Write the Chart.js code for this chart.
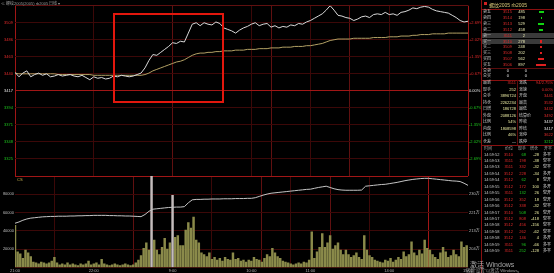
<!DOCTYPE html>
<html>
<head>
<meta charset="utf-8">
<title>rb2005 分时</title>
<script src="https://cdn.jsdelivr.net/npm/chart.js@4.4.1/dist/chart.umd.min.js"></script>
<style>
  html, body { margin: 0; padding: 0; background: #000; }
  body { width: 554px; height: 273px; overflow: hidden; position: relative;
         font-family: "Liberation Sans", "Noto Sans CJK SC", sans-serif; }
  #priceBox { position: absolute; left: 0; top: 0; width: 481px; height: 176px; }
  #volBox { position: absolute; left: 0; top: 176px; width: 481px; height: 97px; }
  .t { position: absolute; white-space: nowrap; line-height: 1; font-size: 4px; }
  .r { position: absolute; }
  #mark { position: absolute; left: 113px; top: 13px; width: 107px; height: 86px; border: 2px solid #e3170d; }
</style>
</head>
<body>
<div id="priceBox"><canvas id="priceChart"></canvas></div>
<div id="volBox"><canvas id="volChart"></canvas></div>
<div id="mark"></div>
<script>
// 螺纹2005 分时：价格/均价/持仓每3分钟一个点，成交量每2分钟一根
const base = 3417; // 昨结
const sessionTicks = [0, 60, 120, 180, 195, 225, 255, 285, 345];
const timeLabels = ['21:00', '22:00', '9:00', '10:00', '', '11:00', '', '14:00', '15:00'];
const priceTicks = [3532, 3509, 3486, 3463, 3440, 3417, 3394, 3371, 3348, 3325, 3302];
const volTicks = [0, 20000, 40000, 60000, 80000, 100000];
const oiTicks = [195.6, 204.2, 212.8, 221.4, 230, 238.6];

const price = [
  3442, 3436, 3441, 3444, 3436, 3439, 3441, 3438, 3440, 3436,
  3437, 3439, 3437, 3438, 3439, 3437, 3436, 3438, 3435, 3432,
  3436, 3434, 3435, 3433, 3434, 3437, 3436, 3438, 3437, 3436,
  3437, 3439, 3441, 3448, 3458, 3466, 3465, 3469, 3473, 3477,
  3482, 3481, 3484, 3483, 3495, 3507, 3509, 3505, 3509, 3507,
  3506, 3510, 3508, 3502, 3500, 3498, 3495, 3499, 3502, 3504,
  3507, 3509, 3505, 3507, 3508, 3503, 3505, 3502, 3504, 3503,
  3506, 3505, 3508, 3507, 3510, 3512, 3515, 3518, 3521, 3526,
  3532, 3526, 3519, 3518, 3516, 3515, 3512, 3514, 3517, 3518,
  3516, 3520, 3521, 3520, 3523, 3520, 3521, 3519, 3523, 3524,
  3526, 3529, 3528, 3530, 3531, 3530, 3527, 3525, 3524, 3523,
  3522, 3519, 3516, 3512, 3510, 3511
];
const avgPrice = [
  3441, 3440, 3440, 3440, 3440, 3440, 3440, 3440, 3440, 3440,
  3440, 3439, 3439, 3439, 3439, 3439, 3439, 3439, 3439, 3439,
  3438, 3438, 3438, 3438, 3438, 3438, 3438, 3438, 3438, 3438,
  3438, 3438, 3438, 3439, 3441, 3444, 3446, 3448, 3450, 3452,
  3454, 3456, 3457, 3459, 3462, 3465, 3467, 3468, 3468, 3469,
  3469, 3470, 3470, 3471, 3471, 3471, 3472, 3472, 3472, 3473,
  3473, 3473, 3474, 3474, 3474, 3475, 3475, 3475, 3476, 3476,
  3476, 3477, 3477, 3477, 3478, 3478, 3479, 3480, 3481, 3483,
  3485, 3486, 3487, 3487, 3487, 3487, 3488, 3488, 3488, 3488,
  3488, 3489, 3489, 3489, 3489, 3490, 3490, 3490, 3491, 3491,
  3491, 3492, 3492, 3493, 3493, 3493, 3494, 3494, 3494, 3494,
  3495, 3495, 3495, 3495, 3495, 3495
];
// 持仓量（万手）
const openInt = [
  216.4, 217.0, 217.8, 218.4, 218.8, 219.0, 219.2, 219.4, 219.5, 219.6,
  219.6, 219.7, 219.7, 219.7, 219.8, 219.8, 219.9, 219.9, 220.0, 220.0,
  220.1, 220.1, 220.1, 220.1, 220.0, 220.0, 219.9, 219.9, 219.8, 219.8,
  219.7, 219.6, 219.5, 220.5, 222.0, 223.0, 223.2, 223.4, 223.6, 223.8,
  223.9, 224.0, 224.0, 224.2, 226.0, 227.4, 227.6, 227.6, 227.7, 227.7,
  227.8, 227.8, 227.8, 227.9, 227.9, 227.9, 228.0, 228.0, 228.0, 228.1,
  228.1, 228.4, 229.0, 229.6, 230.1, 230.5, 230.7, 230.9, 231.1, 231.3,
  231.5, 231.7, 231.9, 232.1, 232.3, 232.4, 232.8, 233.2, 233.5, 233.8,
  233.2, 232.6, 232.2, 232.0, 231.9, 231.9, 231.9, 231.9, 232.0, 233.8,
  234.0, 234.2, 234.4, 234.6, 234.7, 235.0, 235.3, 235.6, 236.0, 236.4,
  236.7, 237.0, 237.2, 237.4, 237.5, 237.5, 237.3, 237.1, 236.9, 236.7,
  236.5, 236.3, 236.2, 236.0, 235.2, 234.2
];
const volume = [
  46000, 17000, 15000, 10000, 19000, 16000, 12000, 6000, 5000, 4000,
  6000, 5000, 4000, 5000, 7000, 11000, 5000, 3000, 4000, 3000,
  5000, 3000, 4000, 3000, 2000, 4000, 3000, 4000, 7000, 3000,
  4000, 5000, 3000, 9000, 4000, 3000, 2000, 3000, 4000, 3000,
  2000, 3000, 4000, 3000, 2000, 3000, 5000, 8000, 13000, 21000,
  27000, 19000, 100000, 30000, 19000, 14000, 22000, 32000, 20000, 27000,
  79000, 33000, 35000, 24000, 24000, 41000, 49000, 43000, 55000, 30000,
  27000, 16000, 14000, 12000, 16000, 9000, 11000, 8000, 10000, 7000,
  11000, 9000, 8000, 16000, 9000, 10000, 7000, 8000, 6000, 8000,
  7000, 11000, 9000, 8000, 6000, 10000, 14000, 12000, 21000, 16000,
  12000, 10000, 7000, 6000, 5000, 4000, 3000, 4000, 5000, 4000,
  6000, 5000, 8000, 39000, 10000, 17000, 22000, 37000, 22000, 27000,
  35000, 20000, 24000, 27000, 19000, 14000, 19000, 14000, 11000, 13000,
  16000, 11000, 9000, 35000, 19000, 13000, 11000, 8000, 7000, 6000,
  5000, 8000, 7000, 10000, 6000, 8000, 11000, 9000, 17000, 12000,
  14000, 28000, 16000, 13000, 19000, 15000, 30000, 21000, 19000, 14000,
  11000, 9000, 16000, 22000, 17000, 11000, 13000, 19000, 14000, 12000,
  28000, 22000, 24000
];

// 右侧盘口
const bookLabels = ['卖五', '卖四', '卖三', '卖二', '卖一', '买一', '买二', '买三', '买四', '买五'];
const bookPrices = [3515, 3514, 3513, 3512, 3511, 3510, 3509, 3508, 3507, 3506];
const bookVols = [485, 198, 529, 458, 2, 278, 248, 202, 562, 897];
const bookDelta = [-110, -20, -120, -90, 0, 30, 30, 30, 120, 200];
const statLeft = [['最新', '3511'], ['现手', '252'], ['总手', '3896724'], ['持仓', '2262234'], ['日增', '186728'],
  ['外盘', '2088126'], ['比例', '54%'], ['内盘', '1808598'], ['比例', '46%'], ['仓差', '—']];
const statRight = [['涨跌', '94/2.75%'], ['涨速', '0.00%'], ['开盘', '3441'], ['最高', '3532'], ['最低', '3432'],
  ['结算价', '3492'], ['昨收', '3437'], ['昨结', '3417'], ['涨停', '3622'], ['跌停', '3212']];
const tickTimes = ['14:59:52', '14:59:53', '14:59:53', '14:59:54', '14:59:54', '14:59:55', '14:59:55', '14:59:56',
  '14:59:56', '14:59:57', '14:59:57', '14:59:58', '14:59:58', '14:59:58', '14:59:59', '14:59:59'];
const tickPrices = [3510, 3511, 3511, 3512, 3512, 3512, 3511, 3512, 3512, 3510, 3512, 3512, 3512, 3512, 3511, 3511];
const tickVols = [68, 198, 332, 228, 62, 172, 132, 352, 338, 508, 808, 456, 262, 146, 96, 252];
const tickOi = [-28, -38, -32, -34, 8, 100, 26, 18, -32, 26, -418, -156, -62, 4, -66, -128];
const tickKind = ['多平', '空平', '空平', '多开', '空开', '多开', '空开', '空开', '空平', '空开', '空平', '空平', '空平', '多开', '多平', '多平'];
const tickBuy = [0, 1, 1, 1, 0, 1, 0, 1, 1, 0, 1, 1, 1, 1, 0, 0];

const priceMin = price.map((_, i) => i * 3);
const volMin = volume.map((_, i) => i * 2);

const FONT = 'Liberation Sans, "Noto Sans CJK SC", sans-serif';
const RED = '#e22a2a', GREEN = '#1ec81e', WHITE = '#e4e4e4';
const gridDim = '#3c0808', gridMid = '#601010', gridHi = '#a01616';

function xGridColor(c) {
  const v = c.tick ? c.tick.value : null;
  if (v === 0 || v === 345) return gridHi;
  if (v === 120 || v === 195 || v === 255) return gridMid;
  return gridDim;
}
function xAxis(showLabels) {
  return {
    type: 'linear', min: 0, max: 345, offset: false,
    afterBuildTicks: a => { a.ticks = sessionTicks.map(v => ({ value: v })); },
    afterFit: a => { a.height = showLabels ? 5.5 : 0; a.paddingLeft = 0; a.paddingRight = 0; },
    grid: { drawTicks: false, color: xGridColor, lineWidth: 1 },
    border: { display: false },
    ticks: {
      display: showLabels, autoSkip: false, maxRotation: 0, padding: 1,
      color: '#b0b0b0', font: { size: 4, family: FONT },
      callback: (v, i) => timeLabels[i]
    }
  };
}
function priceColor(c) {
  const v = c.tick.value;
  return v > base ? RED : v < base ? GREEN : WHITE;
}
const edge = v => v === priceTicks[0] || v === priceTicks[priceTicks.length - 1];

new Chart(document.getElementById('priceChart'), {
  type: 'line',
  data: {
    datasets: [
      { data: priceMin.map((m, i) => ({ x: m, y: price[i] })), borderColor: '#d8d8d8', borderWidth: 1, pointRadius: 0, tension: 0 },
      { data: priceMin.map((m, i) => ({ x: m, y: avgPrice[i] })), borderColor: '#b2a064', borderWidth: 1, pointRadius: 0, tension: 0 }
    ]
  },
  options: {
    responsive: true, maintainAspectRatio: false, animation: false,
    layout: { padding: { top: 5.7, bottom: 0, left: 0, right: 0 } },
    plugins: { legend: { display: false }, tooltip: { enabled: false } },
    scales: {
      x: xAxis(false),
      y: {
        position: 'left', min: 3302, max: 3532,
        afterBuildTicks: a => { a.ticks = priceTicks.map(v => ({ value: v })); },
        afterFit: a => { a.width = 15; a.paddingTop = 0; a.paddingBottom = 0; },
        grid: { drawTicks: false, color: c => c.tick.value === base ? gridHi : c.tick.value === 3532 ? gridMid : gridDim },
        border: { display: false },
        ticks: { padding: 2, color: priceColor, font: { size: 4, family: FONT }, callback: v => edge(v) ? '' : v }
      },
      pct: {
        position: 'right', min: 3302, max: 3532,
        afterBuildTicks: a => { a.ticks = priceTicks.map(v => ({ value: v })); },
        afterFit: a => { a.width = 13; a.paddingTop = 0; a.paddingBottom = 0; },
        grid: { display: false, drawTicks: false },
        border: { display: false },
        ticks: {
          padding: 1, color: priceColor, font: { size: 4, family: FONT },
          callback: v => {
            if (edge(v)) return '';
            const p = (v - base) / base * 100;
            return (p > 0 ? '+' : '') + p.toFixed(2) + '%';
          }
        }
      }
    }
  }
});

new Chart(document.getElementById('volChart'), {
  type: 'bar',
  data: {
    datasets: [
      { type: 'line', order: 0, yAxisID: 'oi', data: priceMin.map((m, i) => ({ x: m, y: openInt[i] })),
        borderColor: '#c4c4c4', borderWidth: 1, pointRadius: 0, tension: 0 },
      { type: 'bar', order: 1, yAxisID: 'y', data: volMin.map((m, i) => ({ x: m, y: volume[i] })),
        barThickness: 1.8, backgroundColor: c => (c.raw && c.raw.y >= 70000) ? '#c4bcbc' : '#8a8a4a' }
    ]
  },
  options: {
    responsive: true, maintainAspectRatio: false, animation: false,
    layout: { padding: 0 },
    plugins: { legend: { display: false }, tooltip: { enabled: false } },
    scales: {
      x: xAxis(true),
      y: {
        position: 'left', min: 0, max: 100000,
        afterBuildTicks: a => { a.ticks = volTicks.map(v => ({ value: v })); },
        afterFit: a => { a.width = 15; a.paddingTop = 0; a.paddingBottom = 0; },
        grid: { drawTicks: false, color: c => c.tick.value === 100000 ? gridHi : gridDim },
        border: { display: false },
        ticks: { padding: 1, color: '#bdbdbd', font: { size: 4, family: FONT },
          callback: v => (v === 0 || v === 100000) ? '' : v }
      },
      oi: {
        position: 'right', min: 195.6, max: 238.6,
        afterBuildTicks: a => { a.ticks = oiTicks.map(v => ({ value: v })); },
        afterFit: a => { a.width = 13; a.paddingTop = 0; a.paddingBottom = 0; },
        grid: { display: false, drawTicks: false },
        border: { display: false },
        ticks: { padding: 1, color: '#bdbdbd', font: { size: 4, family: FONT },
          callback: (v, i) => (i === 0 || i === oiTicks.length - 1) ? '' : Math.round(v) + '万' }
      }
    }
  }
});

// 文字与盘口
function put(x, y, s, color, size, right) {
  const d = document.createElement('div');
  d.className = 't';
  d.textContent = s;
  d.style.left = x + 'px';
  d.style.top = y + 'px';
  d.style.color = color;
  if (size) d.style.fontSize = size + 'px';
  d.style.transform = right ? 'translate(-100%,-50%)' : 'translateY(-50%)';
  document.body.appendChild(d);
}
function rect(x, y, w, h, color) {
  const d = document.createElement('div');
  d.className = 'r';
  Object.assign(d.style, { left: x + 'px', top: y + 'px', width: w + 'px', height: h + 'px', background: color });
  document.body.appendChild(d);
}

put(1, 3.5, '≪ 螺纹2005(2005) rb2005', '#9a9a9a', 4);
put(49, 3.5, '日线 ▾', '#9a9a9a', 4);
put(17, 179.5, 'CS', '#c8b450', 4);

// 面板边框
rect(481, 0, 1, 273, '#8a1010');
rect(481, 9, 73, 1, '#8a1010');
rect(481, 67.5, 73, 1, '#5a0c0c');
rect(481, 79.5, 73, 1, '#8a1010');
rect(517, 80, 1, 65, '#5a0c0c');
rect(481, 145, 73, 1, '#8a1010');
rect(484, 1.5, 2.5, 3, '#d02020');
put(489, 4.6, '螺纹2005  rb2005', '#d8c878', 5);

bookLabels.forEach((lab, i) => {
  const y = 12 + i * 5.9;
  if (i === 4 || i === 5) rect(482, y - 2.9, 72, 5.7, '#3a3a3a');
  put(483, y, lab, '#c8c8c8');
  put(512, y, String(bookPrices[i]), RED, 0, true);
  put(525, y, String(bookVols[i]), '#e8e8b0', 0, true);
  const w = Math.abs(bookDelta[i]) / 22;
  if (w > 0) rect(541 - w / 2, y - 1.1, Math.max(w, 1), 2.2, bookDelta[i] < 0 ? '#12d412' : '#e02020');
});
put(483, 71, '总卖', '#c8c8c8'); put(509, 71, '0', WHITE, 0, true); put(527, 71, '0', WHITE, 0, true);
put(483, 76, '总买', '#c8c8c8'); put(509, 76, '0', WHITE, 0, true); put(527, 76, '0', WHITE, 0, true);

statLeft.forEach(([lab, val], i) => {
  const y = 83 + i * 6.5;
  put(483, y, lab, '#c8c8c8');
  put(516, y, val, i === 0 ? RED : i === 9 ? WHITE : '#e8e8a0', 0, true);
});
statRight.forEach(([lab, val], i) => {
  const y = 83 + i * 6.5;
  const n = Number(val);
  let col = RED;
  if (lab === '昨收' || lab === '昨结') col = WHITE;
  else if (!isNaN(n) && n < base) col = GREEN;
  put(519, y, lab, '#c8c8c8');
  put(553, y, val, col, 0, true);
});

const head = [['时间', 484], ['价位', 505], ['现手', 518], ['增仓', 530], ['开平', 544]];
head.forEach(([s, x]) => put(x, 148.5, s, '#a8a8a8'));
tickTimes.forEach((t, i) => {
  const y = 154.5 + i * 6.45;
  put(484, y, t, '#c8c8c8');
  put(513, y, String(tickPrices[i]), RED, 0, true);
  put(526, y, String(tickVols[i]), tickBuy[i] ? RED : GREEN, 0, true);
  put(539, y, String(tickOi[i]), '#e8e8a0', 0, true);
  put(543, y, tickKind[i], '#e0e0e0');
});

// 系统水印
put(470, 264, '激活 Windows', 'rgba(205,205,205,0.8)', 7);
put(466, 270.5, '转到“设置”以激活 Windows。', 'rgba(205,205,205,0.75)', 4.3);
</script>
</body>
</html>
